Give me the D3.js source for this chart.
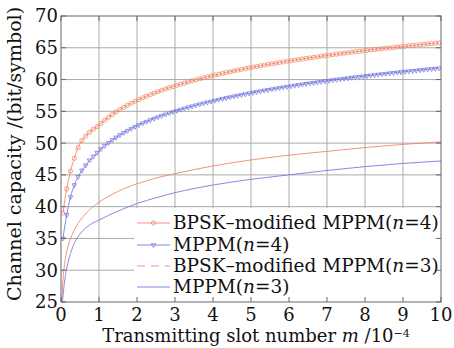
<!DOCTYPE html>
<html>
<head>
<meta charset="utf-8">
<script src="https://cdn.jsdelivr.net/npm/d3@7"></script>
<style>
  body { margin: 0; background: #fff; }
  text { font-family: "DejaVu Serif", serif; fill: #111; }
</style>
</head>
<body>
<div id="chart"></div>
<script>
// transmitting slot number m (x 10^-4), marker positions of the n=4 curves
const mSlots = [0.05, 0.15, 0.25, 0.35, 0.45, 0.55, 0.65, 0.75, 0.85, 0.95,
  1.05, 1.15, 1.25, 1.35, 1.45, 1.55, 1.65, 1.75, 1.85, 1.95,
  2.05, 2.15, 2.25, 2.35, 2.45, 2.55, 2.65, 2.75, 2.85, 2.95,
  3.05, 3.15, 3.25, 3.35, 3.45, 3.55, 3.65, 3.75, 3.85, 3.95,
  4.05, 4.15, 4.25, 4.35, 4.45, 4.55, 4.65, 4.75, 4.85, 4.95,
  5.05, 5.15, 5.25, 5.35, 5.45, 5.55, 5.65, 5.75, 5.85, 5.95,
  6.05, 6.15, 6.25, 6.35, 6.45, 6.55, 6.65, 6.75, 6.85, 6.95,
  7.05, 7.15, 7.25, 7.35, 7.45, 7.55, 7.65, 7.75, 7.85, 7.95,
  8.05, 8.15, 8.25, 8.35, 8.45, 8.55, 8.65, 8.75, 8.85, 8.95,
  9.05, 9.15, 9.25, 9.35, 9.45, 9.55, 9.65, 9.75, 9.85, 9.95];

const capBpsk4 = [39.0, 42.8, 45.6, 47.6, 49.3, 50.4, 51.1, 51.7, 52.2, 52.6,
  53.08, 53.59, 54.06, 54.50, 54.90, 55.28, 55.63, 55.96, 56.28, 56.57,
  56.86, 57.13, 57.38, 57.63, 57.86, 58.09, 58.31, 58.52, 58.72, 58.91,
  59.10, 59.28, 59.46, 59.63, 59.80, 59.96, 60.12, 60.27, 60.42, 60.56,
  60.70, 60.84, 60.97, 61.11, 61.23, 61.36, 61.48, 61.60, 61.72, 61.84,
  61.95, 62.06, 62.17, 62.28, 62.38, 62.48, 62.58, 62.68, 62.78, 62.88,
  62.97, 63.06, 63.15, 63.24, 63.33, 63.42, 63.50, 63.59, 63.67, 63.75,
  63.83, 63.91, 63.99, 64.07, 64.15, 64.22, 64.30, 64.37, 64.44, 64.51,
  64.58, 64.65, 64.72, 64.79, 64.86, 64.92, 64.99, 65.06, 65.12, 65.18,
  65.25, 65.31, 65.37, 65.43, 65.49, 65.55, 65.61, 65.67, 65.72, 65.78];

const capMppm4 = [35.0, 38.7, 41.5, 43.4, 44.7, 45.7, 46.5, 47.3, 47.9, 48.5,
  49.08, 49.59, 50.06, 50.50, 50.90, 51.28, 51.63, 51.96, 52.28, 52.57,
  52.86, 53.13, 53.38, 53.63, 53.86, 54.09, 54.31, 54.52, 54.72, 54.91,
  55.10, 55.28, 55.46, 55.63, 55.80, 55.96, 56.12, 56.27, 56.42, 56.56,
  56.70, 56.84, 56.97, 57.11, 57.23, 57.36, 57.48, 57.60, 57.72, 57.84,
  57.95, 58.06, 58.17, 58.28, 58.38, 58.48, 58.58, 58.68, 58.78, 58.88,
  58.97, 59.06, 59.15, 59.24, 59.33, 59.42, 59.50, 59.59, 59.67, 59.75,
  59.83, 59.91, 59.99, 60.07, 60.15, 60.22, 60.30, 60.37, 60.44, 60.51,
  60.58, 60.65, 60.72, 60.79, 60.86, 60.92, 60.99, 61.06, 61.12, 61.18,
  61.25, 61.31, 61.37, 61.43, 61.49, 61.55, 61.61, 61.67, 61.72, 61.78];

// n=3 curves (no markers)
const mBpsk3 = [0.02, 0.05, 0.1, 0.15, 0.2, 0.3, 0.4, 0.5, 0.75, 1, 1.5, 2, 2.5, 3, 4, 5, 6, 7, 8, 9, 10];
const capBpsk3 = [25.0, 28.3, 31.2, 32.9, 34.05, 35.7, 36.9, 37.8, 39.5, 40.7, 42.4, 43.6, 44.5, 45.2, 46.4, 47.35, 48.1, 48.7, 49.3, 49.8, 50.2];
const mMppm3 = [0.04, 0.07, 0.1, 0.15, 0.2, 0.3, 0.4, 0.5, 0.75, 1, 1.5, 2, 2.5, 3, 4, 5, 6, 7, 8, 9, 10];
const capMppm3 = [25.0, 27.0, 28.5, 30.3, 31.6, 33.5, 34.8, 35.7, 37.1, 37.9, 39.3, 40.5, 41.4, 42.2, 43.4, 44.3, 45.0, 45.7, 46.3, 46.8, 47.2];

const xTicks = [0, 1, 2, 3, 4, 5, 6, 7, 8, 9, 10];
const yTicks = [25, 30, 35, 40, 45, 50, 55, 60, 65, 70];
const legendLabels = ["BPSK\u2013modified MPPM(", "MPPM(", "BPSK\u2013modified MPPM(", "MPPM("];
const legendN = ["4", "4", "3", "3"];

const red = "#f3866a", blue = "#7a7ae2";
const W = 454, H = 348;
const m = {left: 61, right: 13, top: 16, bottom: 46};

const svg = d3.select("#chart").append("svg").attr("width", W).attr("height", H);

const x = d3.scaleLinear().domain([0, 10]).range([m.left, W - m.right]);
const y = d3.scaleLinear().domain([25, 70]).range([H - m.bottom, m.top]);

// grid
svg.append("g").selectAll("line").data(xTicks.slice(1, -1)).join("line")
  .attr("x1", d => x(d)).attr("x2", d => x(d)).attr("y1", y(25)).attr("y2", y(70))
  .attr("stroke", "#aaa").attr("stroke-width", 1);
svg.append("g").selectAll("line").data(yTicks.slice(1, -1)).join("line")
  .attr("x1", x(0)).attr("x2", x(10)).attr("y1", d => y(d)).attr("y2", d => y(d))
  .attr("stroke", "#aaa").attr("stroke-width", 1);

// legend background hides grid
const lg = {x0: 134, y0: 208};
svg.append("rect").attr("x", lg.x0).attr("y", lg.y0)
  .attr("width", x(10) - lg.x0).attr("height", y(25) - lg.y0).attr("fill", "#fff");

svg.append("clipPath").attr("id", "plot").append("rect")
  .attr("x", x(0)).attr("y", y(70)).attr("width", x(10) - x(0)).attr("height", y(25) - y(70));

const line = d3.line().x(d => x(d[0])).y(d => y(d[1])).curve(d3.curveMonotoneX);
const plot = svg.append("g").attr("clip-path", "url(#plot)");

plot.append("path").datum(d3.zip(mBpsk3, capBpsk3)).attr("d", line)
  .attr("fill", "none").attr("stroke", red).attr("stroke-width", 0.9);
plot.append("path").datum(d3.zip(mMppm3, capMppm3)).attr("d", line)
  .attr("fill", "none").attr("stroke", blue).attr("stroke-width", 0.9);

plot.append("path").datum(d3.zip(mSlots, capBpsk4)).attr("d", line)
  .attr("fill", "none").attr("stroke", red).attr("stroke-width", 0.9);
plot.append("path").datum(d3.zip(mSlots, capMppm4)).attr("d", line)
  .attr("fill", "none").attr("stroke", blue).attr("stroke-width", 0.9);

const circleSym = d3.symbol().type(d3.symbolCircle).size(14);
const triSym = d3.symbol().type(d3.symbolTriangle).size(9);

plot.append("g").selectAll("path").data(d3.zip(mSlots, capBpsk4)).join("path")
  .attr("d", circleSym).attr("transform", d => `translate(${x(d[0])},${y(d[1])})`)
  .attr("fill", "none").attr("stroke", red).attr("stroke-width", 0.8);
plot.append("g").selectAll("path").data(d3.zip(mSlots, capMppm4)).join("path")
  .attr("d", triSym).attr("transform", d => `translate(${x(d[0])},${y(d[1])}) rotate(180)`)
  .attr("fill", "none").attr("stroke", blue).attr("stroke-width", 0.8);

// inner ticks on all sides
const tk = 5;
const ticks = svg.append("g").attr("stroke", "#666").attr("stroke-width", 1);
xTicks.forEach(v => {
  ticks.append("line").attr("x1", x(v)).attr("x2", x(v)).attr("y1", y(25)).attr("y2", y(25) - tk);
  ticks.append("line").attr("x1", x(v)).attr("x2", x(v)).attr("y1", y(70)).attr("y2", y(70) + tk);
});
yTicks.forEach(v => {
  ticks.append("line").attr("x1", x(0)).attr("x2", x(0) + tk).attr("y1", y(v)).attr("y2", y(v));
  ticks.append("line").attr("x1", x(10)).attr("x2", x(10) - tk).attr("y1", y(v)).attr("y2", y(v));
});

// frame
svg.append("rect").attr("x", x(0)).attr("y", y(70))
  .attr("width", x(10) - x(0)).attr("height", y(25) - y(70))
  .attr("fill", "none").attr("stroke", "#666").attr("stroke-width", 1);

// tick labels
svg.append("g").selectAll("text").data(xTicks).join("text")
  .attr("x", d => x(d)).attr("y", 321).attr("text-anchor", "middle")
  .style("font-size", "18px").text(d => d);
svg.append("g").selectAll("text").data(yTicks).join("text")
  .attr("x", x(0) - 3).attr("y", d => y(d)).attr("dy", "0.36em").attr("text-anchor", "end")
  .style("font-size", "18px").text(d => d);

// axis titles
const xt = svg.append("text").attr("x", (x(0) + x(10)) / 2 + 5).attr("y", 342)
  .attr("text-anchor", "middle").style("font-size", "18px");
xt.append("tspan").text("Transmitting slot number ");
xt.append("tspan").style("font-style", "italic").text("m");
xt.append("tspan").text(" /10");
xt.append("tspan").attr("dy", "-0.45em").style("font-size", "11px").text("\u22124");

svg.append("text").attr("transform", "translate(21,154) rotate(-90)")
  .attr("text-anchor", "middle").style("font-size", "19px")
  .text("Channel capacity /(bit/symbol)");

// legend
const rowY = [223, 245, 266, 287];
const lx0 = 137, lx1 = 170;
const leg = svg.append("g");
legendLabels.forEach((lab, i) => {
  const col = i % 2 === 0 ? red : blue;
  const yy = rowY[i];
  leg.append("line").attr("x1", lx0).attr("x2", lx1).attr("y1", yy).attr("y2", yy)
    .attr("stroke", col).attr("stroke-width", 0.9)
    .attr("stroke-dasharray", i === 2 ? "8,6" : null);
  if (i === 0) {
    leg.append("path").attr("d", circleSym).attr("transform", `translate(${(lx0 + lx1) / 2},${yy})`)
      .attr("fill", "none").attr("stroke", red).attr("stroke-width", 0.8);
  } else if (i === 1) {
    leg.append("path").attr("d", triSym).attr("transform", `translate(${(lx0 + lx1) / 2},${yy}) rotate(180)`)
      .attr("fill", "none").attr("stroke", blue).attr("stroke-width", 0.8);
  }
  const t = leg.append("text").attr("x", 173).attr("y", yy + 6).style("font-size", "18.5px");
  t.append("tspan").text(lab);
  t.append("tspan").style("font-style", "italic").text("n");
  t.append("tspan").text("=" + legendN[i] + ")");
});
</script>
</body>
</html>
